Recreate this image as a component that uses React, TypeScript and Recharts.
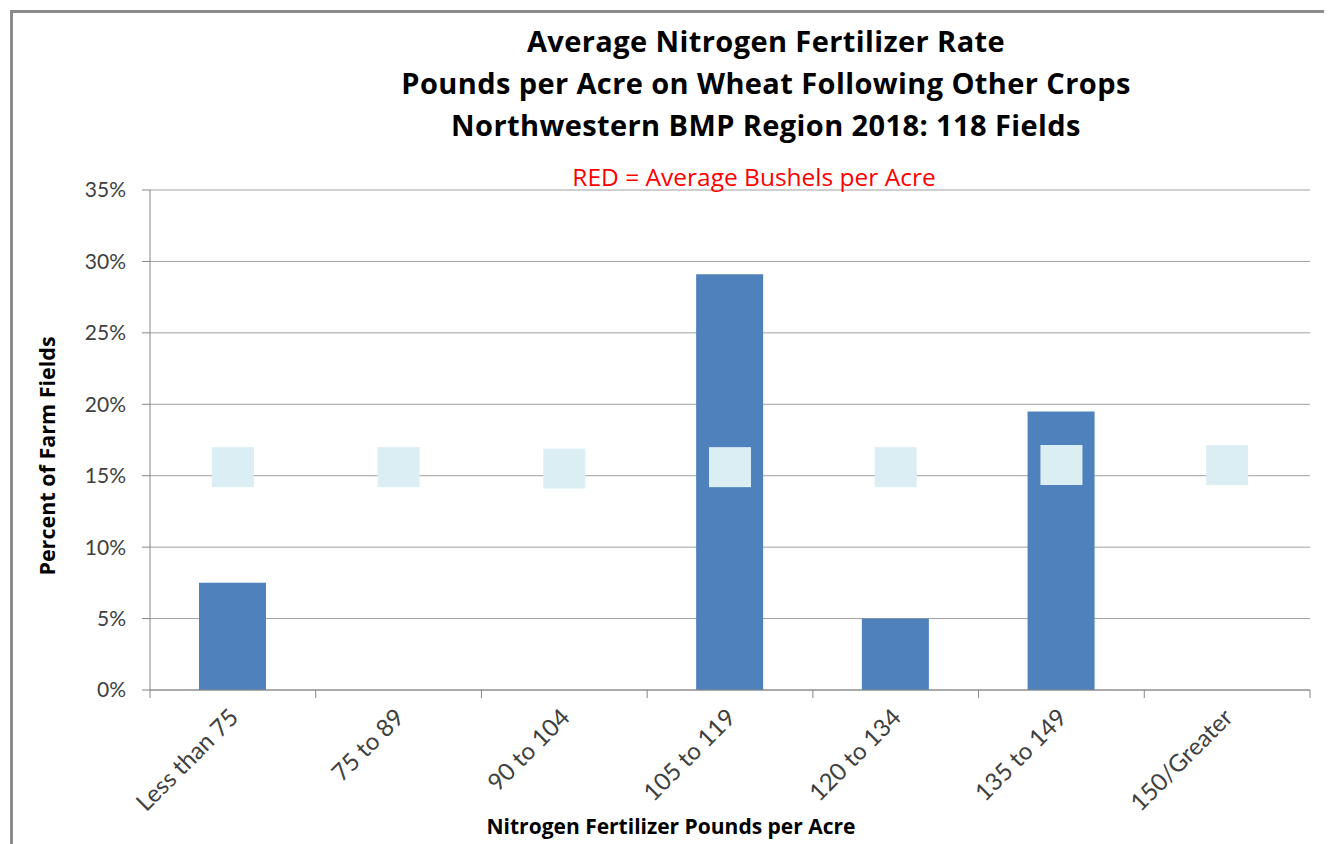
import React from "react";
import { ComposedChart, Bar, Line, XAxis, YAxis, CartesianGrid } from "recharts";

const categories = ["Less than 75", "75 to 89", "90 to 104", "105 to 119", "120 to 134", "135 to 149", "150/Greater"];
const percentFields = [7.5, 0, 0, 29.1, 5.0, 19.5, 0];
const bushelBoxLevel = [15.6, 15.6, 15.5, 15.6, 15.6, 15.75, 15.75];
const yTicks = [0, 5, 10, 15, 20, 25, 30, 35];

const titleLines = [
  "Average Nitrogen Fertilizer Rate",
  "Pounds per Acre on Wheat Following Other Crops",
  "Northwestern BMP Region 2018: 118 Fields",
];
const subtitle = "RED = Average Bushels per Acre";
const yLabel = "Percent of Farm Fields";
const xLabel = "Nitrogen Fertilizer Pounds per Acre";

const data = categories.map((c, i) => ({ cat: c, pct: percentFields[i], box: bushelBoxLevel[i] }));

const FONT = "Lato, 'Noto Sans', sans-serif";
const WIDE = "'Open Sans', 'Noto Sans', sans-serif";
const AXIS = "#868686";

const XTick = (props: any) => {
  const { x, y, payload, index } = props;
  const off = payload.offset || 0;
  return (
    <g>
      <line x1={x - off} x2={x - off} y1={y} y2={y + 8} stroke={AXIS} strokeWidth={1} />
      {index === categories.length - 1 && (
        <line x1={x + off} x2={x + off} y1={y} y2={y + 8} stroke={AXIS} strokeWidth={1} />
      )}
      <text
        transform={`translate(${x + 7},${y + 29}) rotate(-45)`}
        textAnchor="end"
        fontSize={24}
        fontFamily={FONT}
        fill="#404040"
      >
        {payload.value}
      </text>
    </g>
  );
};

const BoxDot = (props: any) => {
  const { cx, cy } = props;
  if (cx == null || cy == null) return null;
  return <rect x={cx - 21} y={cy - 20} width={42} height={40} fill="#dbeef4" />;
};

export default function App() {
  return (
    <div style={{ position: "relative", width: 1332, height: 844, marginLeft: -8, marginTop: -8, overflow: "hidden", background: "#fff", fontFamily: FONT }}>
      <div style={{ position: "absolute", left: 10, top: 10, width: 1400, height: 900, border: "3px solid #8c8c8c", boxSizing: "border-box" }} />
      <ComposedChart
        width={1332}
        height={844}
        data={data}
        margin={{ top: 190, right: 22, bottom: 124, left: 90 }}
        style={{ position: "absolute", left: 0, top: 0 }}
      >
        <CartesianGrid vertical={false} stroke="#a0a0a0" />
        <XAxis
          dataKey="cat"
          height={30}
          tick={<XTick />}
          tickLine={false}
          tickSize={0}
          tickMargin={0}
          axisLine={{ stroke: AXIS }}
          interval={0}
        />
        <YAxis
          width={60}
          domain={[0, 35]}
          ticks={yTicks}
          tickFormatter={(v: number) => `${v}%`}
          tickSize={8}
          tickMargin={16}
          tickLine={{ stroke: AXIS }}
          axisLine={{ stroke: AXIS }}
          tick={{ fontSize: 21, fill: "#404040", fontFamily: FONT }}
          interval={0}
        />
        <Bar dataKey="pct" fill="#4f81bd" barSize={67} isAnimationActive={false} />
        <Line dataKey="box" stroke="none" dot={<BoxDot />} activeDot={false} legendType="none" isAnimationActive={false} />
      </ComposedChart>
      <div style={{ position: "absolute", left: 0, width: 1532, top: 20, textAlign: "center", fontFamily: WIDE, fontWeight: 700, fontSize: 29, letterSpacing: 0.4, lineHeight: "42px", color: "#000" }}>
        {titleLines.map((t) => (
          <div key={t}>{t}</div>
        ))}
      </div>
      <div style={{ position: "absolute", left: 0, width: 1508, top: 160, textAlign: "center", fontFamily: WIDE, fontSize: 24.5, color: "#ff0000" }}>
        {subtitle}
      </div>
      <div style={{ position: "absolute", left: 46, top: 456, transform: "translate(-50%,-50%) rotate(-90deg)", whiteSpace: "nowrap", fontFamily: WIDE, fontWeight: 700, fontSize: 21.5, color: "#000" }}>
        {yLabel}
      </div>
      <div style={{ position: "absolute", left: 671, top: 826, transform: "translate(-50%,-50%)", whiteSpace: "nowrap", fontFamily: WIDE, fontWeight: 700, fontSize: 21, color: "#000" }}>
        {xLabel}
      </div>
    </div>
  );
}
